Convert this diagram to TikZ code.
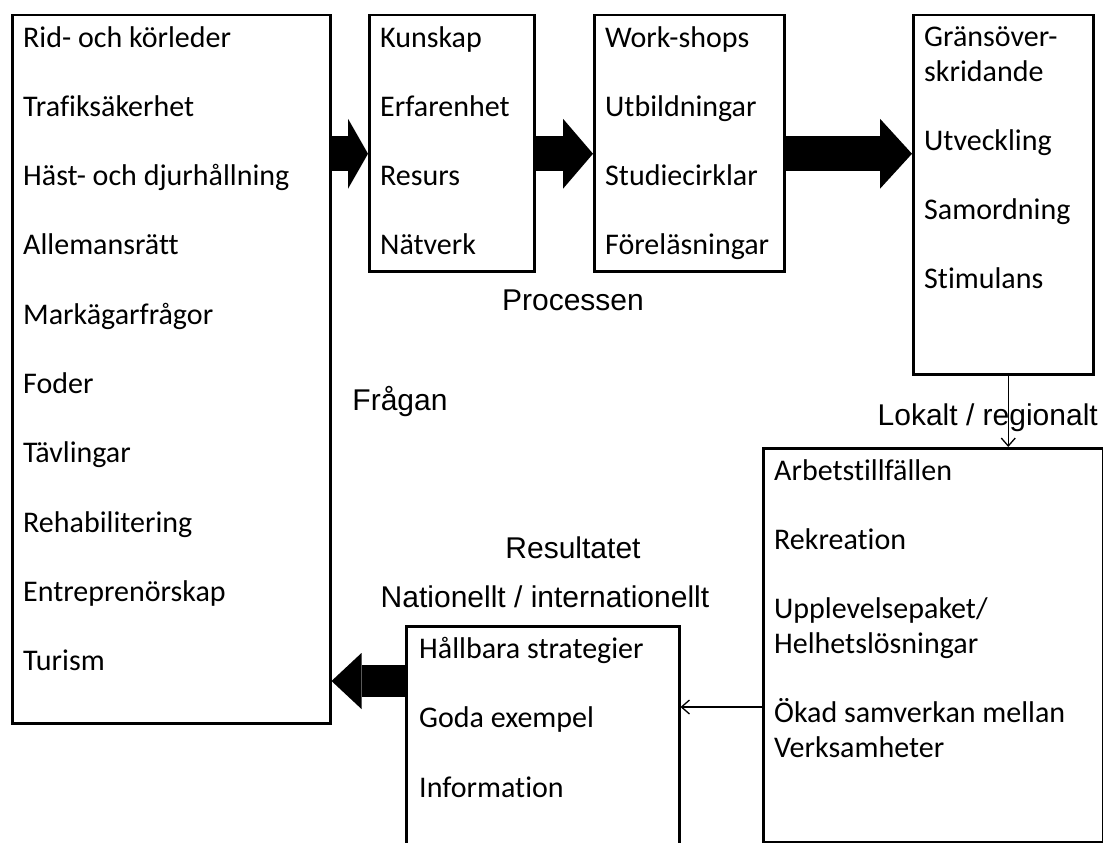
\documentclass[tikz,border=0pt]{standalone}
\usepackage{fontspec}
\setmainfont{Carlito}[Ligatures=NoCommon]
\newfontfamily\arialfont{Liberation Sans}
\usetikzlibrary{arrows.meta}

\begin{document}
\begin{tikzpicture}[x=1pt,y=-1pt]
		\useasboundingbox (0,0) rectangle (1103,843);

		\begin{scope}[every node/.style={draw,line width=2.5pt,inner sep=0pt,anchor=north west}]
			\node[minimum width=318pt,minimum height=708pt] (fragan) at (11,14) {};
			\node[minimum width=165pt,minimum height=256pt] (kunskap) at (368,14) {};
			\node[minimum width=190pt,minimum height=256pt] (workshops) at (593,14) {};
			\node[minimum width=180pt,minimum height=359pt] (grans) at (912,14) {};

			\node[minimum width=340pt,minimum height=394pt] (arbets) at (762,447) {};
			\node[minimum width=273pt,minimum height=260pt] (hallbara) at (405,625) {};
		\end{scope}

		\begin{scope}[every node/.style={align=left,inner sep=0pt,anchor=north west,
					  font=\fontsize{30}{35}\selectfont}]
			\node (fraganlist) at ([shift={(12,12)}]fragan.north west) {Rid- och körleder\\[34.3pt]Trafiksäkerhet\\[34.3pt]Häst- och djurhållning\\[34.3pt]Allemansrätt\\[34.3pt]Markägarfrågor\\[34.3pt]Foder\\[34.3pt]Tävlingar\\[34.3pt]Rehabilitering\\[34.3pt]Entreprenörskap\\[34.3pt]Turism};
			\node (kunskaplist) at ([shift={(12,12)}]kunskap.north west) {Kunskap\\[34.3pt]Erfarenhet\\[34.3pt]Resurs\\[34.3pt]Nätverk};
			\node (workshopslist) at ([shift={(12,12)}]workshops.north west) {Work-shops\\[34.3pt]Utbildningar\\[34.3pt]Studiecirklar\\[34.3pt]Föreläsningar};
			\node (granslist) at ([shift={(12,12)}]grans.north west) {Gränsöver-\\skridande\\[34.3pt]Utveckling\\[34.3pt]Samordning\\[34.3pt]Stimulans};
			\node (arbetslist) at ([shift={(12,12)}]arbets.north west) {Arbetstillfällen\\[34.3pt]Rekreation\\[34.3pt]Upplevelsepaket/\\Helhetslösningar\\[34.3pt]Ökad samverkan mellan\\Verksamheter};
			\node (hallbaralist) at ([shift={(14,12)}]hallbara.north west) {Hållbara strategier\\[34.3pt]Goda exempel\\[34.3pt]Information};
		\end{scope}

		\begin{scope}[every node/.style={anchor=base,inner sep=0pt,
					  font=\arialfont\fontsize{30}{35}\selectfont}]
			\node (processen) at (573,310) {Processen};
			\node (fraganlabel) at (400,410) {Frågan};
			\node (resultatet) at (573,558) {Resultatet};
			\node (nationellt) at (545,607) {Nationellt / internationellt};
			\node[anchor=base east] (lokalt) at (1098,425) {Lokalt / regionalt};
		\end{scope}

		% block arrows
		\coordinate (row) at ([yshift=-10.5pt]kunskap.west);
		\coordinate (back) at ([yshift=-56pt]hallbara.north west);
		\begin{scope}[line width=35pt]
			\draw [-{Triangle[length=20pt,width=70pt,line width=0pt]}] (row -| fragan.east) -- (row);
			\draw [-{Triangle[length=30pt,width=70pt,line width=0pt]}] (row -| kunskap.east) -- (row -| workshops.west);
			\draw [-{Triangle[length=32pt,width=70pt,line width=0pt]}] (row -| workshops.east) -- (row -| grans.west);
			\draw [line width=32pt,-{Triangle[length=30pt,width=56pt,line width=0pt]}] (back) -- (back -| fragan.east);
		\end{scope}

		% thin arrows
		\coordinate (drop) at ([xshift=5pt]grans.south);
		\coordinate (link) at ([yshift=-260pt]arbets.north west);
		\begin{scope}[line width=1.3pt,>={Straight Barb[length=8pt,width=14pt]}]
			\draw [->] (drop) -- (drop |- arbets.north);
			\draw [->] (link) -- (link -| hallbara.east);
		\end{scope}
\end{tikzpicture}
\end{document}
